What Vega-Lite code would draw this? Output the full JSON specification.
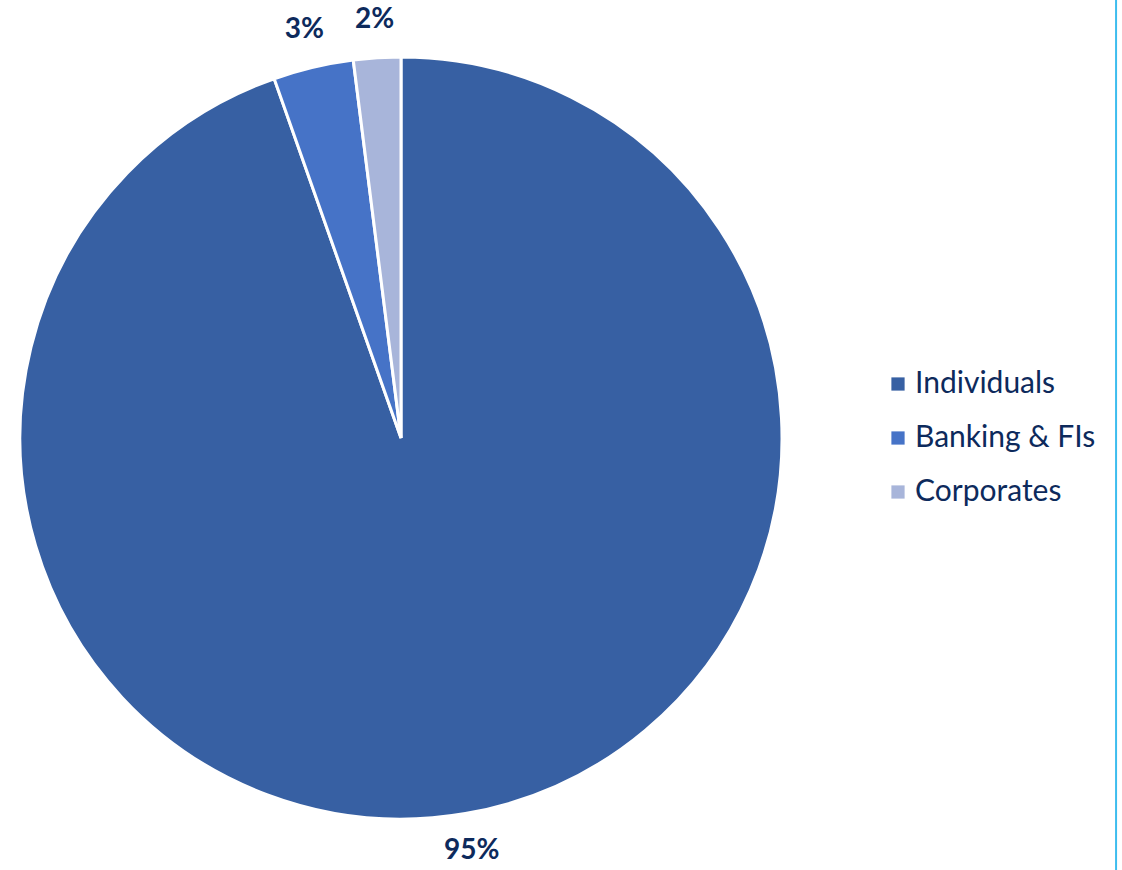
{
  "$schema": "https://vega.github.io/schema/vega-lite/v6.json",
  "autosize": "none",
  "width": 802,
  "height": 876,
  "padding": {"left": 0, "top": 0, "right": 320, "bottom": 0},
  "background": "white",
  "config": {"view": {"stroke": null}},
  "data": {"values": [
    {"segment": "Individuals", "share": 94.6, "label": "95%", "ord": 1},
    {"segment": "Banking & FIs", "share": 3.4, "label": "3%", "ord": 2},
    {"segment": "Corporates", "share": 2.0, "label": "2%", "ord": 3}
  ]},
  "encoding": {
    "theta": {"field": "share", "type": "quantitative", "stack": true},
    "order": {"field": "ord", "type": "quantitative"}
  },
  "layer": [
    {
      "mark": {"type": "arc", "outerRadius": 381, "stroke": "white", "strokeWidth": 3},
      "encoding": {
        "color": {
          "field": "segment", "type": "nominal",
          "sort": ["Individuals", "Banking & FIs", "Corporates"],
          "scale": {"domain": ["Individuals", "Banking & FIs", "Corporates"], "range": ["#3760A3", "#4673C7", "#A8B5DA"]},
          "legend": {
            "title": null,
            "orient": "none",
            "legendX": 883,
            "legendY": 369,
            "symbolType": "square",
            "symbolSize": 175,
            "symbolStrokeWidth": 0,
            "labelFont": "Lato",
            "labelFontSize": 30,
            "labelColor": "#0D2A5C",
            "labelOffset": 2,
            "rowPadding": 24,
            "labelLimit": 400
          }
        }
      }
    },
    {
      "mark": {"type": "text", "radius": 419, "font": "Lato", "fontWeight": "bold", "fontSize": 28, "fill": "#0D2A5C", "baseline": "middle", "align": "center"},
      "encoding": {"text": {"field": "label", "type": "nominal"}}
    },
    {
      "data": {"values": [{"edge": 1}]},
      "mark": {"type": "rule", "color": "#3DBDEE", "strokeWidth": 2},
      "encoding": {
        "theta": null,
        "order": null,
        "x": {"field": "edge", "type": "quantitative", "scale": {"domain": [0, 0.7186], "clamp": false}, "axis": null}
      }
    }
  ]
}
